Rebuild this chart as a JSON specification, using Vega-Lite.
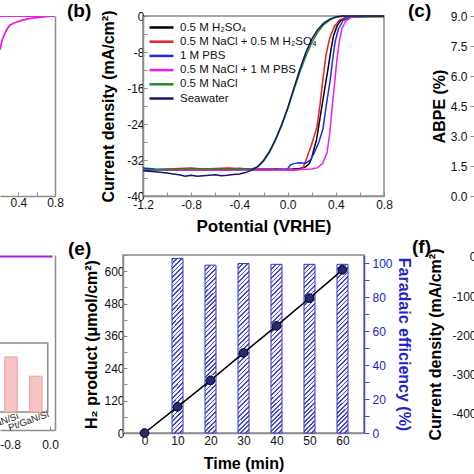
{
  "$schema": "https://vega.github.io/schema/vega-lite/v6.json",
  "autosize": {"type": "none"},
  "padding": {"left": 0, "top": 16, "right": 474, "bottom": 458},
  "background": "white",
  "bounds": "flush",
  "spacing": 239,
  "datasets": {
    "a": [
      {"s": "flat", "v": 0.2, "j": 0}, {"s": "flat", "v": 0.8, "j": 0},
      {"s": "lsv", "v": 0.2, "j": -7.5}, {"s": "lsv", "v": 0.21, "j": -6.5}, {"s": "lsv", "v": 0.23, "j": -5.0}, {"s": "lsv", "v": 0.255, "j": -3.8}, {"s": "lsv", "v": 0.28, "j": -2.8}, {"s": "lsv", "v": 0.31, "j": -2.0}, {"s": "lsv", "v": 0.36, "j": -1.5}, {"s": "lsv", "v": 0.42, "j": -1.1}, {"s": "lsv", "v": 0.49, "j": -0.7}, {"s": "lsv", "v": 0.56, "j": -0.45}, {"s": "lsv", "v": 0.67, "j": -0.2}, {"s": "lsv", "v": 0.75, "j": -0.05}, {"s": "lsv", "v": 0.8, "j": 0}
    ],
    "b": [
      {"s": "0.5 M H₂SO₄", "v": -1.2, "j": -34.2}, {"s": "0.5 M H₂SO₄", "v": -1.1, "j": -34.3}, {"s": "0.5 M H₂SO₄", "v": -1.0, "j": -34.1}, {"s": "0.5 M H₂SO₄", "v": -0.9, "j": -34.2}, {"s": "0.5 M H₂SO₄", "v": -0.8, "j": -34.0}, {"s": "0.5 M H₂SO₄", "v": -0.7, "j": -34.1}, {"s": "0.5 M H₂SO₄", "v": -0.6, "j": -34.0}, {"s": "0.5 M H₂SO₄", "v": -0.5, "j": -34.1}, {"s": "0.5 M H₂SO₄", "v": -0.4, "j": -33.9}, {"s": "0.5 M H₂SO₄", "v": -0.3, "j": -34.0}, {"s": "0.5 M H₂SO₄", "v": -0.2, "j": -34.1}, {"s": "0.5 M H₂SO₄", "v": -0.1, "j": -34.0}, {"s": "0.5 M H₂SO₄", "v": 0.0, "j": -34.1}, {"s": "0.5 M H₂SO₄", "v": 0.1, "j": -33.9}, {"s": "0.5 M H₂SO₄", "v": 0.15, "j": -33.5}, {"s": "0.5 M H₂SO₄", "v": 0.18, "j": -32.8}, {"s": "0.5 M H₂SO₄", "v": 0.2, "j": -31.5}, {"s": "0.5 M H₂SO₄", "v": 0.24, "j": -27.5}, {"s": "0.5 M H₂SO₄", "v": 0.27, "j": -22.5}, {"s": "0.5 M H₂SO₄", "v": 0.3, "j": -17.5}, {"s": "0.5 M H₂SO₄", "v": 0.335, "j": -11.8}, {"s": "0.5 M H₂SO₄", "v": 0.36, "j": -7.5}, {"s": "0.5 M H₂SO₄", "v": 0.38, "j": -4.5}, {"s": "0.5 M H₂SO₄", "v": 0.41, "j": -2.2}, {"s": "0.5 M H₂SO₄", "v": 0.44, "j": -1.0}, {"s": "0.5 M H₂SO₄", "v": 0.48, "j": -0.4}, {"s": "0.5 M H₂SO₄", "v": 0.55, "j": -0.2}, {"s": "0.5 M H₂SO₄", "v": 0.65, "j": -0.1}, {"s": "0.5 M H₂SO₄", "v": 0.8, "j": -0.1},
      {"s": "0.5 M NaCl + 0.5 M H₂SO₄", "v": -1.2, "j": -34.0}, {"s": "0.5 M NaCl + 0.5 M H₂SO₄", "v": -1.1, "j": -34.2}, {"s": "0.5 M NaCl + 0.5 M H₂SO₄", "v": -1.0, "j": -34.0}, {"s": "0.5 M NaCl + 0.5 M H₂SO₄", "v": -0.9, "j": -33.9}, {"s": "0.5 M NaCl + 0.5 M H₂SO₄", "v": -0.8, "j": -33.8}, {"s": "0.5 M NaCl + 0.5 M H₂SO₄", "v": -0.7, "j": -34.0}, {"s": "0.5 M NaCl + 0.5 M H₂SO₄", "v": -0.6, "j": -33.9}, {"s": "0.5 M NaCl + 0.5 M H₂SO₄", "v": -0.5, "j": -33.8}, {"s": "0.5 M NaCl + 0.5 M H₂SO₄", "v": -0.4, "j": -33.9}, {"s": "0.5 M NaCl + 0.5 M H₂SO₄", "v": -0.3, "j": -34.1}, {"s": "0.5 M NaCl + 0.5 M H₂SO₄", "v": -0.2, "j": -34.0}, {"s": "0.5 M NaCl + 0.5 M H₂SO₄", "v": -0.1, "j": -34.1}, {"s": "0.5 M NaCl + 0.5 M H₂SO₄", "v": 0.0, "j": -34.2}, {"s": "0.5 M NaCl + 0.5 M H₂SO₄", "v": 0.05, "j": -34.3}, {"s": "0.5 M NaCl + 0.5 M H₂SO₄", "v": 0.1, "j": -34.1}, {"s": "0.5 M NaCl + 0.5 M H₂SO₄", "v": 0.13, "j": -33.6}, {"s": "0.5 M NaCl + 0.5 M H₂SO₄", "v": 0.16, "j": -31.5}, {"s": "0.5 M NaCl + 0.5 M H₂SO₄", "v": 0.2, "j": -28.5}, {"s": "0.5 M NaCl + 0.5 M H₂SO₄", "v": 0.244, "j": -24.6}, {"s": "0.5 M NaCl + 0.5 M H₂SO₄", "v": 0.27, "j": -19.5}, {"s": "0.5 M NaCl + 0.5 M H₂SO₄", "v": 0.294, "j": -13.8}, {"s": "0.5 M NaCl + 0.5 M H₂SO₄", "v": 0.32, "j": -8.5}, {"s": "0.5 M NaCl + 0.5 M H₂SO₄", "v": 0.35, "j": -4.8}, {"s": "0.5 M NaCl + 0.5 M H₂SO₄", "v": 0.39, "j": -2.2}, {"s": "0.5 M NaCl + 0.5 M H₂SO₄", "v": 0.435, "j": -0.8}, {"s": "0.5 M NaCl + 0.5 M H₂SO₄", "v": 0.5, "j": -0.3}, {"s": "0.5 M NaCl + 0.5 M H₂SO₄", "v": 0.6, "j": -0.1}, {"s": "0.5 M NaCl + 0.5 M H₂SO₄", "v": 0.8, "j": -0.1},
      {"s": "1 M PBS", "v": -1.2, "j": -33.8}, {"s": "1 M PBS", "v": -1.1, "j": -34.0}, {"s": "1 M PBS", "v": -1.0, "j": -34.1}, {"s": "1 M PBS", "v": -0.9, "j": -34.2}, {"s": "1 M PBS", "v": -0.8, "j": -34.1}, {"s": "1 M PBS", "v": -0.7, "j": -34.2}, {"s": "1 M PBS", "v": -0.6, "j": -34.1}, {"s": "1 M PBS", "v": -0.5, "j": -34.2}, {"s": "1 M PBS", "v": -0.4, "j": -34.1}, {"s": "1 M PBS", "v": -0.3, "j": -34.2}, {"s": "1 M PBS", "v": -0.2, "j": -34.1}, {"s": "1 M PBS", "v": -0.1, "j": -34.2}, {"s": "1 M PBS", "v": 0.0, "j": -34.0}, {"s": "1 M PBS", "v": 0.02, "j": -33.2}, {"s": "1 M PBS", "v": 0.05, "j": -32.8}, {"s": "1 M PBS", "v": 0.1, "j": -32.6}, {"s": "1 M PBS", "v": 0.15, "j": -32.7}, {"s": "1 M PBS", "v": 0.19, "j": -32.0}, {"s": "1 M PBS", "v": 0.22, "j": -30.5}, {"s": "1 M PBS", "v": 0.26, "j": -28.0}, {"s": "1 M PBS", "v": 0.294, "j": -25.0}, {"s": "1 M PBS", "v": 0.32, "j": -20.0}, {"s": "1 M PBS", "v": 0.352, "j": -14.5}, {"s": "1 M PBS", "v": 0.375, "j": -9.5}, {"s": "1 M PBS", "v": 0.394, "j": -5.8}, {"s": "1 M PBS", "v": 0.42, "j": -3.0}, {"s": "1 M PBS", "v": 0.46, "j": -1.0}, {"s": "1 M PBS", "v": 0.52, "j": -0.3}, {"s": "1 M PBS", "v": 0.6, "j": -0.1}, {"s": "1 M PBS", "v": 0.8, "j": 0.0},
      {"s": "0.5 M NaCl + 1 M PBS", "v": -1.2, "j": -34.1}, {"s": "0.5 M NaCl + 1 M PBS", "v": -1.1, "j": -34.2}, {"s": "0.5 M NaCl + 1 M PBS", "v": -1.0, "j": -34.2}, {"s": "0.5 M NaCl + 1 M PBS", "v": -0.9, "j": -34.3}, {"s": "0.5 M NaCl + 1 M PBS", "v": -0.8, "j": -34.2}, {"s": "0.5 M NaCl + 1 M PBS", "v": -0.7, "j": -34.3}, {"s": "0.5 M NaCl + 1 M PBS", "v": -0.6, "j": -34.2}, {"s": "0.5 M NaCl + 1 M PBS", "v": -0.5, "j": -34.3}, {"s": "0.5 M NaCl + 1 M PBS", "v": -0.4, "j": -34.2}, {"s": "0.5 M NaCl + 1 M PBS", "v": -0.3, "j": -34.2}, {"s": "0.5 M NaCl + 1 M PBS", "v": -0.2, "j": -34.3}, {"s": "0.5 M NaCl + 1 M PBS", "v": -0.1, "j": -34.2}, {"s": "0.5 M NaCl + 1 M PBS", "v": 0.0, "j": -34.2}, {"s": "0.5 M NaCl + 1 M PBS", "v": 0.1, "j": -34.1}, {"s": "0.5 M NaCl + 1 M PBS", "v": 0.2, "j": -34.0}, {"s": "0.5 M NaCl + 1 M PBS", "v": 0.25, "j": -33.7}, {"s": "0.5 M NaCl + 1 M PBS", "v": 0.29, "j": -32.8}, {"s": "0.5 M NaCl + 1 M PBS", "v": 0.327, "j": -30.4}, {"s": "0.5 M NaCl + 1 M PBS", "v": 0.35, "j": -26.0}, {"s": "0.5 M NaCl + 1 M PBS", "v": 0.368, "j": -20.8}, {"s": "0.5 M NaCl + 1 M PBS", "v": 0.39, "j": -15.0}, {"s": "0.5 M NaCl + 1 M PBS", "v": 0.41, "j": -9.6}, {"s": "0.5 M NaCl + 1 M PBS", "v": 0.43, "j": -5.5}, {"s": "0.5 M NaCl + 1 M PBS", "v": 0.45, "j": -2.9}, {"s": "0.5 M NaCl + 1 M PBS", "v": 0.48, "j": -1.2}, {"s": "0.5 M NaCl + 1 M PBS", "v": 0.52, "j": -0.4}, {"s": "0.5 M NaCl + 1 M PBS", "v": 0.6, "j": -0.1}, {"s": "0.5 M NaCl + 1 M PBS", "v": 0.8, "j": 0.0},
      {"s": "0.5 M NaCl", "v": -1.2, "j": -34.2}, {"s": "0.5 M NaCl", "v": -1.1, "j": -34.1}, {"s": "0.5 M NaCl", "v": -1.0, "j": -34.2}, {"s": "0.5 M NaCl", "v": -0.9, "j": -34.1}, {"s": "0.5 M NaCl", "v": -0.8, "j": -34.0}, {"s": "0.5 M NaCl", "v": -0.7, "j": -34.1}, {"s": "0.5 M NaCl", "v": -0.6, "j": -34.0}, {"s": "0.5 M NaCl", "v": -0.5, "j": -34.1}, {"s": "0.5 M NaCl", "v": -0.4, "j": -34.0}, {"s": "0.5 M NaCl", "v": -0.3, "j": -34.0}, {"s": "0.5 M NaCl", "v": -0.25, "j": -33.6}, {"s": "0.5 M NaCl", "v": -0.2, "j": -32.3}, {"s": "0.5 M NaCl", "v": -0.15, "j": -30.3}, {"s": "0.5 M NaCl", "v": -0.1, "j": -27.6}, {"s": "0.5 M NaCl", "v": -0.05, "j": -24.4}, {"s": "0.5 M NaCl", "v": 0.0, "j": -20.7}, {"s": "0.5 M NaCl", "v": 0.05, "j": -16.6}, {"s": "0.5 M NaCl", "v": 0.1, "j": -12.6}, {"s": "0.5 M NaCl", "v": 0.15, "j": -9.0}, {"s": "0.5 M NaCl", "v": 0.2, "j": -6.0}, {"s": "0.5 M NaCl", "v": 0.25, "j": -3.6}, {"s": "0.5 M NaCl", "v": 0.3, "j": -1.9}, {"s": "0.5 M NaCl", "v": 0.35, "j": -0.9}, {"s": "0.5 M NaCl", "v": 0.4, "j": -0.3}, {"s": "0.5 M NaCl", "v": 0.45, "j": -0.1}, {"s": "0.5 M NaCl", "v": 0.6, "j": -0.1}, {"s": "0.5 M NaCl", "v": 0.8, "j": -0.1},
      {"s": "Seawater", "v": -1.2, "j": -34.4}, {"s": "Seawater", "v": -1.1, "j": -34.6}, {"s": "Seawater", "v": -1.0, "j": -34.9}, {"s": "Seawater", "v": -0.95, "j": -35.1}, {"s": "Seawater", "v": -0.9, "j": -35.3}, {"s": "Seawater", "v": -0.85, "j": -35.6}, {"s": "Seawater", "v": -0.8, "j": -35.4}, {"s": "Seawater", "v": -0.75, "j": -35.6}, {"s": "Seawater", "v": -0.7, "j": -35.5}, {"s": "Seawater", "v": -0.6, "j": -35.3}, {"s": "Seawater", "v": -0.55, "j": -35.5}, {"s": "Seawater", "v": -0.5, "j": -35.4}, {"s": "Seawater", "v": -0.45, "j": -35.2}, {"s": "Seawater", "v": -0.4, "j": -35.1}, {"s": "Seawater", "v": -0.35, "j": -34.8}, {"s": "Seawater", "v": -0.3, "j": -34.3}, {"s": "Seawater", "v": -0.25, "j": -33.5}, {"s": "Seawater", "v": -0.2, "j": -32.1}, {"s": "Seawater", "v": -0.15, "j": -30.1}, {"s": "Seawater", "v": -0.1, "j": -27.4}, {"s": "Seawater", "v": -0.05, "j": -24.2}, {"s": "Seawater", "v": 0.0, "j": -20.5}, {"s": "Seawater", "v": 0.05, "j": -16.2}, {"s": "Seawater", "v": 0.1, "j": -12.0}, {"s": "Seawater", "v": 0.15, "j": -8.2}, {"s": "Seawater", "v": 0.2, "j": -5.2}, {"s": "Seawater", "v": 0.25, "j": -3.0}, {"s": "Seawater", "v": 0.3, "j": -1.6}, {"s": "Seawater", "v": 0.35, "j": -0.7}, {"s": "Seawater", "v": 0.4, "j": -0.2}, {"s": "Seawater", "v": 0.45, "j": 0.0}, {"s": "Seawater", "v": 0.8, "j": 0.0}
    ],
    "d": [
      {"s": "top", "v": -1.0, "j": -0.35}, {"s": "top", "v": 0.05, "j": -0.35}
    ],
    "inset": [
      {"part": "frame", "x1": -1.3, "x2": -0.045, "y1": -20.1, "y2": -35.9},
      {"part": "GaN/Si", "x1": -0.905, "x2": -0.656, "y1": -23.3, "y2": -35.9},
      {"part": "Pt/GaN/Si", "x1": -0.408, "x2": -0.16, "y1": -27.7, "y2": -35.9}
    ],
    "e": [
      {"t": 0, "h2": 0}, {"t": 10, "h2": 97, "fe": 103}, {"t": 20, "h2": 195, "fe": 99}, {"t": 30, "h2": 297, "fe": 100}, {"t": 40, "h2": 397, "fe": 99.5}, {"t": 50, "h2": 500, "fe": 99.5}, {"t": 60, "h2": 605, "fe": 99.5}
    ]
  },
  "vconcat": [
    {
      "hconcat": [
        {
          "width": 55, "height": 180,
          "view": {"stroke": null},
          "data": {"name": "a"},
          "mark": {"type": "line", "color": "#e61ee6", "strokeWidth": 1.8, "clip": true},
          "encoding": {
            "x": {"field": "v", "type": "quantitative", "scale": {"domain": [0.2, 0.8]},
                  "axis": {"values": [0.4, 0.6, 0.8], "labelExpr": "round(datum.value*10) % 4 == 0 ? format(datum.value, '.1f') : ''", "title": null, "tickSize": -4, "labelPadding": 5}},
            "y": {"field": "j", "type": "quantitative", "scale": {"domain": [-40, 0]},
                  "axis": {"orient": "right", "labels": false, "ticks": false, "title": null}},
            "detail": {"field": "s"}
          }
        },
        {
          "width": 88, "height": 180, "view": {"stroke": null},
          "data": {"values": [{}]}, "mark": {"type": "point", "opacity": 0}, "encoding": {}
        },
        {
          "width": 241, "height": 180,
          "title": {"text": "(b)", "dx": -76, "dy": 13},
          "data": {"name": "b"},
          "mark": {"type": "line", "strokeWidth": 1.5},
          "encoding": {
            "x": {"field": "v", "type": "quantitative", "scale": {"domain": [-1.2, 0.8]},
                  "axis": {"values": [-1.2, -1.0, -0.8, -0.6, -0.4, -0.2, 0, 0.2, 0.4, 0.6, 0.8], "labelExpr": "round(datum.value*10) % 4 == 0 ? replace(format(datum.value, '.1f'), '−', '-') : ''", "title": "Potential (VRHE)", "tickSize": -4, "titleFontSize": 17, "labelPadding": 7, "titlePadding": 8}},
            "y": {"field": "j", "type": "quantitative", "scale": {"domain": [-40, 0]},
                  "axis": {"values": [-40, -36, -32, -28, -24, -20, -16, -12, -8, -4, 0], "labelExpr": "datum.value % 8 == 0 ? replace(format(datum.value, 'd'), '−', '-') : ''", "title": "Current density (mA/cm²)", "tickSize": -4, "titlePadding": 10}},
            "color": {"field": "s", "type": "nominal",
                      "scale": {"domain": ["0.5 M H₂SO₄", "0.5 M NaCl + 0.5 M H₂SO₄", "1 M PBS", "0.5 M NaCl + 1 M PBS", "0.5 M NaCl", "Seawater"],
                                "range": ["#000000", "#e0202a", "#1f2ee6", "#ee1fee", "#1e8c2a", "#151565"]},
                      "legend": {"orient": "none", "legendX": 154, "legendY": 4, "title": null, "symbolType": "M-2,0L2,0", "symbolSize": 144, "symbolStrokeWidth": 2.5, "rowPadding": 1.2, "labelFontSize": 11.5, "labelOffset": 11, "padding": 0, "labelLimit": 300, "labelColor": "#111"}}
          }
        },
        {
          "width": 91, "height": 180, "view": {"stroke": null},
          "data": {"values": [{}]}, "mark": {"type": "point", "opacity": 0}, "encoding": {}
        },
        {
          "width": 100, "height": 180,
          "view": {"stroke": null},
          "title": {"text": "(c)", "dx": -67, "dy": 13},
          "data": {"values": [{"abpe": 0}]},
          "mark": {"type": "point", "opacity": 0},
          "encoding": {
            "y": {"field": "abpe", "type": "quantitative", "scale": {"domain": [0, 9]},
                  "axis": {"values": [0, 1.5, 3, 4.5, 6, 7.5, 9], "format": ".1f", "title": "ABPE (%)", "tickSize": 5, "titlePadding": 3}}
          }
        }
      ],
      "spacing": 0,
      "bounds": "flush"
    },
    {
      "hconcat": [
        {
          "width": 55, "height": 175,
          "view": {"stroke": null},
          "layer": [
            {
              "data": {"name": "inset"},
              "transform": [{"filter": "datum.part == 'frame'"}],
              "mark": {"type": "rect", "fill": null, "stroke": "#8c8c8c", "strokeWidth": 1.5, "clip": true},
              "encoding": {
                "x": {"field": "x1", "type": "quantitative", "scale": {"domain": [-1.0, 0.05]},
                      "axis": {"values": [-0.8, -0.4, 0], "labelExpr": "round(datum.value*10) % 8 == 0 ? replace(format(datum.value, '.1f'), '−', '-') : ''", "title": null, "tickSize": -4, "labelPadding": 13}},
                "x2": {"field": "x2"},
                "y": {"field": "y1", "type": "quantitative", "scale": {"domain": [-40, 0]},
                      "axis": {"orient": "right", "labels": false, "ticks": false, "title": null}},
                "y2": {"field": "y2"}
              }
            },
            {
              "data": {"name": "inset"},
              "transform": [{"filter": "datum.part != 'frame'"}],
              "mark": {"type": "rect", "fill": "#f7c4c4", "stroke": "#f09a9a", "strokeWidth": 1, "clip": true},
              "encoding": {
                "x": {"field": "x1", "type": "quantitative"}, "x2": {"field": "x2"},
                "y": {"field": "y1", "type": "quantitative"}, "y2": {"field": "y2"}
              }
            },
            {
              "data": {"name": "inset"},
              "transform": [{"filter": "datum.part != 'frame'"}],
              "mark": {"type": "text", "angle": -20, "fontSize": 9.5, "font": "Liberation Sans", "color": "#222", "baseline": "top", "dy": 3, "dx": -4},
              "encoding": {
                "x": {"field": "x1", "type": "quantitative"},
                "y": {"field": "y2", "type": "quantitative"},
                "text": {"field": "part"}
              }
            },
            {
              "data": {"name": "d"},
              "mark": {"type": "line", "color": "#a21fe6", "strokeWidth": 2, "clip": true},
              "encoding": {
                "x": {"field": "v", "type": "quantitative"},
                "y": {"field": "j", "type": "quantitative"}
              }
            }
          ]
        },
        {
          "width": 68, "height": 175, "view": {"stroke": null},
          "data": {"values": [{}]}, "mark": {"type": "point", "opacity": 0}, "encoding": {}
        },
        {
          "width": 241, "height": 178,
          "title": {"text": "(e)", "dx": -55, "dy": 6},
          "data": {"name": "e"},
          "encoding": {
            "x": {"field": "t", "type": "quantitative", "scale": {"domain": [-5, 65]},
                  "axis": {"values": [0, 10, 20, 30, 40, 50, 60], "title": "Time (min)", "tickSize": -4, "labelPadding": 6, "titlePadding": 9}}
          },
          "layer": [
            {
              "transform": [{"filter": "isValid(datum.fe)"}],
              "mark": {"type": "bar", "width": 11, "stroke": "#3434c4", "strokeWidth": 1,
                       "fill": {"gradient": "linear", "x1": 0, "y1": 0, "x2": 0.0686, "y2": 1.06, "stops": [
                         {"offset": 0, "color": "#4848cc"}, {"offset": 0.009, "color": "#4848cc"}, {"offset": 0.009, "color": "#f2f2ff"}, {"offset": 0.025, "color": "#f2f2ff"},
                         {"offset": 0.025, "color": "#4848cc"}, {"offset": 0.034, "color": "#4848cc"}, {"offset": 0.034, "color": "#f2f2ff"}, {"offset": 0.05, "color": "#f2f2ff"},
                         {"offset": 0.05, "color": "#4848cc"}, {"offset": 0.059, "color": "#4848cc"}, {"offset": 0.059, "color": "#f2f2ff"}, {"offset": 0.075, "color": "#f2f2ff"},
                         {"offset": 0.075, "color": "#4848cc"}, {"offset": 0.084, "color": "#4848cc"}, {"offset": 0.084, "color": "#f2f2ff"}, {"offset": 0.1, "color": "#f2f2ff"},
                         {"offset": 0.1, "color": "#4848cc"}, {"offset": 0.109, "color": "#4848cc"}, {"offset": 0.109, "color": "#f2f2ff"}, {"offset": 0.125, "color": "#f2f2ff"},
                         {"offset": 0.125, "color": "#4848cc"}, {"offset": 0.134, "color": "#4848cc"}, {"offset": 0.134, "color": "#f2f2ff"}, {"offset": 0.15, "color": "#f2f2ff"},
                         {"offset": 0.15, "color": "#4848cc"}, {"offset": 0.159, "color": "#4848cc"}, {"offset": 0.159, "color": "#f2f2ff"}, {"offset": 0.175, "color": "#f2f2ff"},
                         {"offset": 0.175, "color": "#4848cc"}, {"offset": 0.184, "color": "#4848cc"}, {"offset": 0.184, "color": "#f2f2ff"}, {"offset": 0.2, "color": "#f2f2ff"},
                         {"offset": 0.2, "color": "#4848cc"}, {"offset": 0.209, "color": "#4848cc"}, {"offset": 0.209, "color": "#f2f2ff"}, {"offset": 0.225, "color": "#f2f2ff"},
                         {"offset": 0.225, "color": "#4848cc"}, {"offset": 0.234, "color": "#4848cc"}, {"offset": 0.234, "color": "#f2f2ff"}, {"offset": 0.25, "color": "#f2f2ff"},
                         {"offset": 0.25, "color": "#4848cc"}, {"offset": 0.259, "color": "#4848cc"}, {"offset": 0.259, "color": "#f2f2ff"}, {"offset": 0.275, "color": "#f2f2ff"},
                         {"offset": 0.275, "color": "#4848cc"}, {"offset": 0.284, "color": "#4848cc"}, {"offset": 0.284, "color": "#f2f2ff"}, {"offset": 0.3, "color": "#f2f2ff"},
                         {"offset": 0.3, "color": "#4848cc"}, {"offset": 0.309, "color": "#4848cc"}, {"offset": 0.309, "color": "#f2f2ff"}, {"offset": 0.325, "color": "#f2f2ff"},
                         {"offset": 0.325, "color": "#4848cc"}, {"offset": 0.334, "color": "#4848cc"}, {"offset": 0.334, "color": "#f2f2ff"}, {"offset": 0.35, "color": "#f2f2ff"},
                         {"offset": 0.35, "color": "#4848cc"}, {"offset": 0.359, "color": "#4848cc"}, {"offset": 0.359, "color": "#f2f2ff"}, {"offset": 0.375, "color": "#f2f2ff"},
                         {"offset": 0.375, "color": "#4848cc"}, {"offset": 0.384, "color": "#4848cc"}, {"offset": 0.384, "color": "#f2f2ff"}, {"offset": 0.4, "color": "#f2f2ff"},
                         {"offset": 0.4, "color": "#4848cc"}, {"offset": 0.409, "color": "#4848cc"}, {"offset": 0.409, "color": "#f2f2ff"}, {"offset": 0.425, "color": "#f2f2ff"},
                         {"offset": 0.425, "color": "#4848cc"}, {"offset": 0.434, "color": "#4848cc"}, {"offset": 0.434, "color": "#f2f2ff"}, {"offset": 0.45, "color": "#f2f2ff"},
                         {"offset": 0.45, "color": "#4848cc"}, {"offset": 0.459, "color": "#4848cc"}, {"offset": 0.459, "color": "#f2f2ff"}, {"offset": 0.475, "color": "#f2f2ff"},
                         {"offset": 0.475, "color": "#4848cc"}, {"offset": 0.484, "color": "#4848cc"}, {"offset": 0.484, "color": "#f2f2ff"}, {"offset": 0.5, "color": "#f2f2ff"},
                         {"offset": 0.5, "color": "#4848cc"}, {"offset": 0.509, "color": "#4848cc"}, {"offset": 0.509, "color": "#f2f2ff"}, {"offset": 0.525, "color": "#f2f2ff"},
                         {"offset": 0.525, "color": "#4848cc"}, {"offset": 0.534, "color": "#4848cc"}, {"offset": 0.534, "color": "#f2f2ff"}, {"offset": 0.55, "color": "#f2f2ff"},
                         {"offset": 0.55, "color": "#4848cc"}, {"offset": 0.559, "color": "#4848cc"}, {"offset": 0.559, "color": "#f2f2ff"}, {"offset": 0.575, "color": "#f2f2ff"},
                         {"offset": 0.575, "color": "#4848cc"}, {"offset": 0.584, "color": "#4848cc"}, {"offset": 0.584, "color": "#f2f2ff"}, {"offset": 0.6, "color": "#f2f2ff"},
                         {"offset": 0.6, "color": "#4848cc"}, {"offset": 0.609, "color": "#4848cc"}, {"offset": 0.609, "color": "#f2f2ff"}, {"offset": 0.625, "color": "#f2f2ff"},
                         {"offset": 0.625, "color": "#4848cc"}, {"offset": 0.634, "color": "#4848cc"}, {"offset": 0.634, "color": "#f2f2ff"}, {"offset": 0.65, "color": "#f2f2ff"},
                         {"offset": 0.65, "color": "#4848cc"}, {"offset": 0.659, "color": "#4848cc"}, {"offset": 0.659, "color": "#f2f2ff"}, {"offset": 0.675, "color": "#f2f2ff"},
                         {"offset": 0.675, "color": "#4848cc"}, {"offset": 0.684, "color": "#4848cc"}, {"offset": 0.684, "color": "#f2f2ff"}, {"offset": 0.7, "color": "#f2f2ff"},
                         {"offset": 0.7, "color": "#4848cc"}, {"offset": 0.709, "color": "#4848cc"}, {"offset": 0.709, "color": "#f2f2ff"}, {"offset": 0.725, "color": "#f2f2ff"},
                         {"offset": 0.725, "color": "#4848cc"}, {"offset": 0.734, "color": "#4848cc"}, {"offset": 0.734, "color": "#f2f2ff"}, {"offset": 0.75, "color": "#f2f2ff"},
                         {"offset": 0.75, "color": "#4848cc"}, {"offset": 0.759, "color": "#4848cc"}, {"offset": 0.759, "color": "#f2f2ff"}, {"offset": 0.775, "color": "#f2f2ff"},
                         {"offset": 0.775, "color": "#4848cc"}, {"offset": 0.784, "color": "#4848cc"}, {"offset": 0.784, "color": "#f2f2ff"}, {"offset": 0.8, "color": "#f2f2ff"},
                         {"offset": 0.8, "color": "#4848cc"}, {"offset": 0.809, "color": "#4848cc"}, {"offset": 0.809, "color": "#f2f2ff"}, {"offset": 0.825, "color": "#f2f2ff"},
                         {"offset": 0.825, "color": "#4848cc"}, {"offset": 0.834, "color": "#4848cc"}, {"offset": 0.834, "color": "#f2f2ff"}, {"offset": 0.85, "color": "#f2f2ff"},
                         {"offset": 0.85, "color": "#4848cc"}, {"offset": 0.859, "color": "#4848cc"}, {"offset": 0.859, "color": "#f2f2ff"}, {"offset": 0.875, "color": "#f2f2ff"},
                         {"offset": 0.875, "color": "#4848cc"}, {"offset": 0.884, "color": "#4848cc"}, {"offset": 0.884, "color": "#f2f2ff"}, {"offset": 0.9, "color": "#f2f2ff"},
                         {"offset": 0.9, "color": "#4848cc"}, {"offset": 0.909, "color": "#4848cc"}, {"offset": 0.909, "color": "#f2f2ff"}, {"offset": 0.925, "color": "#f2f2ff"},
                         {"offset": 0.925, "color": "#4848cc"}, {"offset": 0.934, "color": "#4848cc"}, {"offset": 0.934, "color": "#f2f2ff"}, {"offset": 0.95, "color": "#f2f2ff"},
                         {"offset": 0.95, "color": "#4848cc"}, {"offset": 0.959, "color": "#4848cc"}, {"offset": 0.959, "color": "#f2f2ff"}, {"offset": 0.975, "color": "#f2f2ff"},
                         {"offset": 0.975, "color": "#4848cc"}, {"offset": 0.984, "color": "#4848cc"}, {"offset": 0.984, "color": "#f2f2ff"}, {"offset": 1, "color": "#f2f2ff"}
                       ]}},
              "encoding": {
                "y": {"field": "fe", "type": "quantitative", "scale": {"domain": [0, 105]},
                      "axis": {"orient": "right", "values": [0, 10, 20, 30, 40, 50, 60, 70, 80, 90, 100], "labelExpr": "datum.value % 20 == 0 ? datum.label : ''", "title": "Faradaic efficiency (%)", "titleColor": "#2323c8", "labelColor": "#2323c8", "domainColor": "#4a4ad0", "tickColor": "#4a4ad0", "tickSize": 5, "titlePadding": 3}}
              }
            },
            {
              "encoding": {
                "y": {"field": "h2", "type": "quantitative", "scale": {"domain": [0, 660]},
                      "axis": {"values": [0, 60, 120, 180, 240, 300, 360, 420, 480, 540, 600, 660], "labelExpr": "datum.value % 120 == 0 ? datum.label : ''", "title": "H₂ product (μmol/cm²)", "tickSize": -4, "titlePadding": 4}}
              },
              "layer": [
                {"mark": {"type": "line", "color": "#000000", "strokeWidth": 1.5}},
                {"mark": {"type": "circle", "size": 75, "color": "#2a2a72", "opacity": 1, "stroke": "#000000", "strokeWidth": 1}}
              ]
            }
          ],
          "resolve": {"scale": {"y": "independent"}}
        },
        {
          "width": 120, "height": 178, "view": {"stroke": null},
          "data": {"values": [{}]}, "mark": {"type": "point", "opacity": 0}, "encoding": {}
        },
        {
          "width": 100, "height": 178,
          "view": {"stroke": null},
          "title": {"text": "(f)", "dx": -72, "dy": 11},
          "data": {"values": [{"cd": 0}]},
          "mark": {"type": "point", "opacity": 0},
          "encoding": {
            "y": {"field": "cd", "type": "quantitative", "scale": {"domain": [-450, 5]},
                  "axis": {"values": [-400, -300, -200, -100, 0], "labelExpr": "replace(format(datum.value, 'd'), '−', '-')", "title": "Current density (mA/cm²)", "tickSize": 5, "titlePadding": 8}}
          }
        }
      ],
      "spacing": 0,
      "bounds": "flush"
    }
  ],
  "config": {
    "font": "Liberation Sans",
    "view": {"stroke": "#8c8c8c", "strokeWidth": 1.5},
    "axis": {"labelFont": "Liberation Sans", "labelFontSize": 12, "labelColor": "#111111", "titleFont": "Liberation Sans", "titleFontSize": 16, "titleFontWeight": "bold", "titleColor": "#000000", "domainColor": "#8c8c8c", "domainWidth": 1.5, "tickColor": "#8c8c8c", "grid": false, "labelPadding": 3, "labelFlush": false},
    "title": {"anchor": "start", "frame": "group", "fontSize": 19, "fontWeight": "bold", "font": "Liberation Sans", "color": "#000000", "offset": 2}
  }
}
